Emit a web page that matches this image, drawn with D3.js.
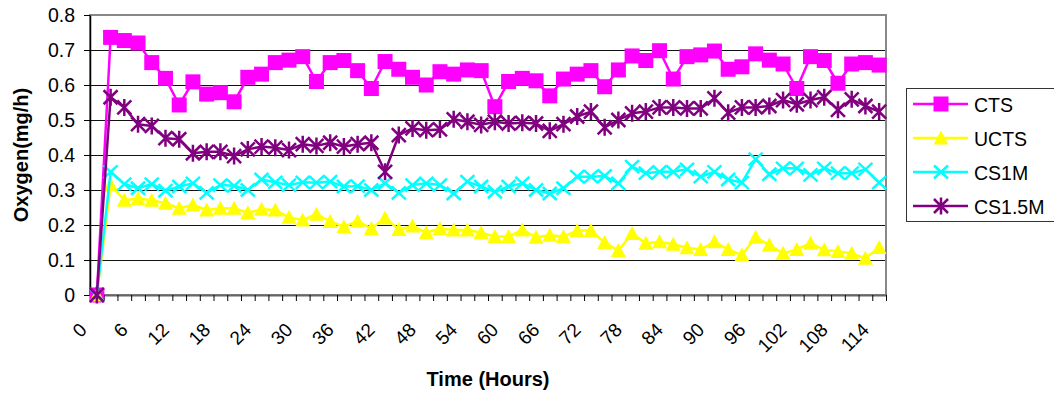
<!DOCTYPE html>
<html>
<head>
<meta charset="utf-8">
<script src="https://cdn.jsdelivr.net/npm/d3@7"></script>
<style>
  body { margin: 0; background: #fff; }
  svg { display: block; font-family: "Liberation Sans", Arial, sans-serif; }
</style>
</head>
<body>
<svg id="chart" width="1054" height="395"></svg>
<script>
// Sampling times (hours), one category every 2 hours
const hours = ["0","2","4","6","8","10","12","14","16","18","20","22","24","26","28","30",
  "32","34","36","38","40","42","44","46","48","50","52","54","56","58","60","62","64","66",
  "68","70","72","74","76","78","80","82","84","86","88","90","92","94","96","98","100","102",
  "104","106","108","110","112","114"];

// Labelled categories on the time axis
const timeLabels = ["0","6","12","18","24","30","36","42","48","54","60","66","72","78",
  "84","90","96","102","108","114"];

// Value axis ticks
const oxygenTicks = [0, 0.1, 0.2, 0.3, 0.4, 0.5, 0.6, 0.7, 0.8];
const oxygenTickLabels = ["0","0.1","0.2","0.3","0.4","0.5","0.6","0.7","0.8"];

// Oxygen uptake (mg/h) per series
const cts = [0, 0.736, 0.727, 0.72, 0.664, 0.619, 0.543, 0.609, 0.574, 0.578, 0.552,
  0.622, 0.631, 0.664, 0.671, 0.681, 0.61, 0.664, 0.67, 0.641, 0.59,
  0.667, 0.645, 0.622, 0.6, 0.638, 0.631, 0.643, 0.641, 0.538, 0.61,
  0.619, 0.612, 0.569, 0.617, 0.631, 0.641, 0.595, 0.643, 0.683, 0.67,
  0.698, 0.617, 0.681, 0.686, 0.697, 0.645, 0.652, 0.689, 0.671, 0.66,
  0.59, 0.681, 0.67, 0.605, 0.66, 0.664, 0.657];

const ucts = [0, 0.315, 0.271, 0.276, 0.271, 0.262, 0.248, 0.257, 0.243, 0.248, 0.248,
  0.235, 0.245, 0.243, 0.222, 0.214, 0.231, 0.21, 0.195, 0.211, 0.19,
  0.22, 0.187, 0.197, 0.178, 0.19, 0.186, 0.186, 0.178, 0.167, 0.167,
  0.186, 0.165, 0.171, 0.167, 0.184, 0.184, 0.15, 0.127, 0.176, 0.148,
  0.152, 0.145, 0.135, 0.13, 0.152, 0.13, 0.114, 0.165, 0.143, 0.119,
  0.13, 0.148, 0.129, 0.124, 0.119, 0.105, 0.136];

const cs1m = [0, 0.352, 0.317, 0.305, 0.317, 0.298, 0.31, 0.319, 0.292, 0.314, 0.312,
  0.3, 0.33, 0.322, 0.314, 0.322, 0.321, 0.324, 0.31, 0.311, 0.3,
  0.319, 0.292, 0.314, 0.319, 0.314, 0.29, 0.324, 0.31, 0.295, 0.31,
  0.319, 0.3, 0.29, 0.305, 0.338, 0.338, 0.34, 0.319, 0.367, 0.348,
  0.352, 0.352, 0.359, 0.338, 0.352, 0.33, 0.321, 0.388, 0.345, 0.362,
  0.362, 0.343, 0.362, 0.348, 0.348, 0.359, 0.321];

const cs15m = [0, 0.565, 0.536, 0.488, 0.483, 0.448, 0.445, 0.405, 0.409, 0.409, 0.397,
  0.416, 0.424, 0.421, 0.414, 0.431, 0.426, 0.435, 0.424, 0.431, 0.435,
  0.352, 0.457, 0.476, 0.471, 0.473, 0.502, 0.495, 0.486, 0.495, 0.49,
  0.492, 0.49, 0.469, 0.488, 0.51, 0.524, 0.479, 0.5, 0.519, 0.524,
  0.536, 0.536, 0.533, 0.533, 0.562, 0.521, 0.536, 0.536, 0.54, 0.557,
  0.545, 0.557, 0.565, 0.529, 0.559, 0.54, 0.524];

const seriesNames = ["CTS", "UCTS", "CS1M", "CS1.5M"];
const seriesColors = ["#ff00ff", "#ffff00", "#00ffff", "#800080"];
const seriesMarkers = ["square", "triangle", "cross", "asterisk"];
const seriesValues = [cts, ucts, cs1m, cs15m];

const series = seriesNames.map((name, k) => ({
  name, color: seriesColors[k], marker: seriesMarkers[k],
  points: hours.map((h, i) => ({ h, v: seriesValues[k][i] }))
}));

const svg = d3.select("#chart");
const plot = { left: 90, right: 886, top: 15, bottom: 295 };

const x = d3.scaleBand().domain(hours).range([plot.left, plot.right]).padding(0);
const cx = h => x(h) + x.bandwidth() / 2;
const y = d3.scaleLinear().domain([0, 0.8]).range([plot.bottom, plot.top]);
// boundaries between categories carry the tick marks
const xEdge = d3.scaleLinear().domain([0, hours.length]).range([plot.left, plot.right]);

// horizontal gridlines
svg.append("g")
  .selectAll("line")
  .data(oxygenTicks.filter(t => t > 0 && t < 0.8))
  .join("line")
  .attr("x1", plot.left).attr("x2", plot.right)
  .attr("y1", d => Math.round(y(d)) + 0.5).attr("y2", d => Math.round(y(d)) + 0.5)
  .attr("stroke", "#111").attr("stroke-width", 1);

// plot area frame
svg.append("rect")
  .attr("x", plot.left).attr("y", plot.top)
  .attr("width", plot.right - plot.left).attr("height", plot.bottom - plot.top)
  .attr("fill", "none").attr("stroke", "#888").attr("stroke-width", 2);

// value axis
const yAxis = svg.append("g")
  .attr("transform", `translate(${plot.left},0)`)
  .call(d3.axisLeft(y).tickValues(oxygenTicks)
    .tickFormat((d, i) => oxygenTickLabels[i]).tickSize(6).tickPadding(9).tickSizeOuter(0));
yAxis.select(".domain").attr("stroke", "#000").attr("stroke-width", 1.5);
yAxis.selectAll(".tick line").attr("stroke", "#000");
yAxis.selectAll(".tick text")
  .attr("font-size", 19.5).attr("fill", "#000")
  .attr("font-family", "'Liberation Sans', Arial, sans-serif");

// time axis: tick marks between categories
const xAxis = svg.append("g")
  .attr("transform", `translate(0,${plot.bottom})`)
  .call(d3.axisBottom(xEdge).tickValues(d3.range(hours.length + 1))
    .tickFormat("").tickSize(6).tickSizeOuter(0));
xAxis.select(".domain").attr("stroke", "#666").attr("stroke-width", 2);
xAxis.selectAll(".tick line").attr("stroke", "#000");

// rotated category labels
svg.append("g")
  .selectAll("text")
  .data(timeLabels)
  .join("text")
  .attr("transform", d => `translate(${cx(d) - 9},331) rotate(-45)`)
  .attr("text-anchor", "end")
  .attr("font-size", 19)
  .attr("fill", "#000")
  .text(d => d);

// axis titles
svg.append("text")
  .attr("transform", "translate(28,155) rotate(-90)")
  .attr("text-anchor", "middle")
  .attr("font-size", 20).attr("font-weight", "bold")
  .text("Oxygen(mg/h)");

svg.append("text")
  .attr("x", 488).attr("y", 386)
  .attr("text-anchor", "middle")
  .attr("font-size", 20).attr("font-weight", "bold")
  .text("Time (Hours)");

// marker shapes
function drawMarker(g, type, color) {
  if (type === "square") {
    g.append("rect").attr("x", -7.5).attr("y", -7.5).attr("width", 15).attr("height", 15)
      .attr("fill", color);
  } else if (type === "triangle") {
    g.append("path").attr("d", "M0,-7.5L7.5,6.5L-7.5,6.5Z").attr("fill", color);
  } else if (type === "cross") {
    g.append("path").attr("d", "M-7,-6.5L7,6.5M-7,6.5L7,-6.5")
      .attr("stroke", color).attr("stroke-width", 2.5).attr("fill", "none");
  } else {
    g.append("path").attr("d", "M-7,-7L7,7M-7,7L7,-7M0,-8.5L0,8.5")
      .attr("stroke", color).attr("stroke-width", 2.5).attr("fill", "none");
  }
}

const line = d3.line().x(d => cx(d.h)).y(d => y(d.v));

// each series: line first, then its markers
series.forEach(s => {
  const g = svg.append("g");
  g.append("path")
    .datum(s.points)
    .attr("d", line)
    .attr("fill", "none")
    .attr("stroke", s.color)
    .attr("stroke-width", 2.5)
    .attr("stroke-linejoin", "round");
  g.selectAll("g.mk")
    .data(s.points)
    .join("g")
    .attr("class", "mk")
    .attr("transform", d => `translate(${cx(d.h)},${y(d.v)})`)
    .each(function () { drawMarker(d3.select(this), s.marker, s.color); });
});

// legend
const legend = svg.append("g");
legend.append("rect")
  .attr("x", 906.5).attr("y", 88.5).attr("width", 160).attr("height", 133)
  .attr("fill", "#fff").attr("stroke", "#333").attr("stroke-width", 1);

const rowY = d3.scalePoint().domain(seriesNames).range([104, 206]);
series.forEach(s => {
  const r = legend.append("g").attr("transform", `translate(0,${rowY(s.name)})`);
  r.append("line").attr("x1", 913).attr("x2", 968).attr("y1", 0).attr("y2", 0)
    .attr("stroke", s.color).attr("stroke-width", 2.5);
  const m = r.append("g").attr("transform", "translate(941,0)");
  drawMarker(m, s.marker, s.color);
  r.append("text").attr("x", 974).attr("y", 7.5)
    .attr("font-size", 19.5).attr("fill", "#000").text(s.name);
});
</script>
</body>
</html>
